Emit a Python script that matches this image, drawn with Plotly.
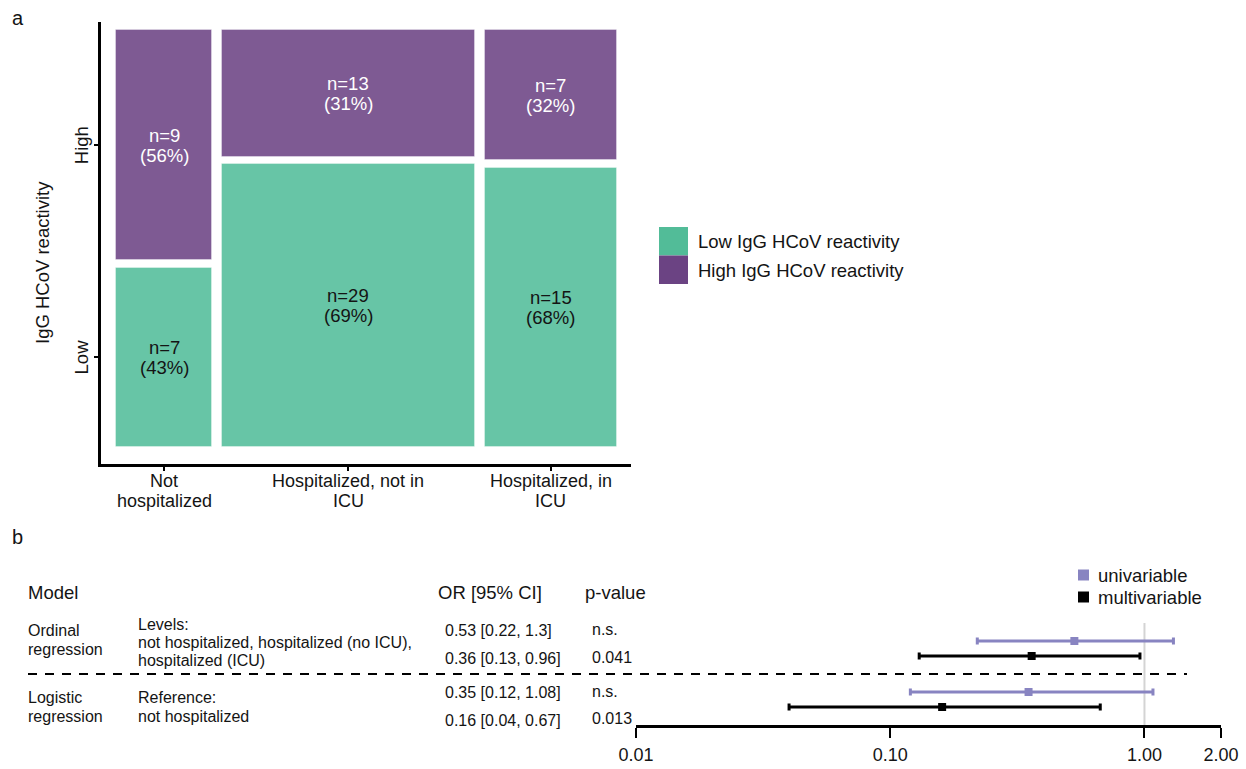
import math
import plotly.graph_objects as go

# ---------------- data ----------------
# Panel a: hospitalisation status vs IgG HCoV reactivity (counts)
categories = ["Not\nhospitalized", "Hospitalized, not in\nICU", "Hospitalized, in\nICU"]
low_counts = [7, 29, 15]
high_counts = [9, 13, 7]
low_pct = [43, 69, 68]
high_pct = [56, 31, 32]
reactivity_levels = ["Low", "High"]

# Panel b: odds ratios with 95% CI
models = ["Ordinal regression", "Logistic regression"]
or_uni = [0.53, 0.35]
lo_uni = [0.22, 0.12]
hi_uni = [1.3, 1.08]
p_uni = ["n.s.", "n.s."]
or_multi = [0.36, 0.16]
lo_multi = [0.13, 0.04]
hi_multi = [0.96, 0.67]
p_multi = ["0.041", "0.013"]
x_ticks = [0.01, 0.1, 1, 2]
x_ticktext = ["0.01", "0.10", "1.00", "2.00"]

# ---------------- styling ----------------
W, H = 1246, 769
FONT = "Liberation Sans, Arial, Helvetica, sans-serif"
TXT = "#141414"
GREEN_BOX = "#67C5A6"
PURPLE_BOX = "#7E5A93"
GREEN_KEY = "#52BC98"
PURPLE_KEY = "#6B4383"
LAVENDER = "#8884C1"


def px(x):
    return x / W


def py(y):
    return 1 - y / H


fig = go.Figure()
annotations = []
shapes = []


def text_at(x, y, s, size, color=TXT, xanchor="left", xref="paper", yref="paper",
            angle=0):
    annotations.append(dict(x=x, y=y, xref=xref, yref=yref, text=s, showarrow=False,
                            xanchor=xanchor, yanchor="middle", textangle=angle,
                            borderpad=0,
                            font=dict(family=FONT, size=size, color=color)))


# ---------------- panel a: mosaic ----------------
gap_x = 0.0208
gap_y = 0.0183
totals = [l + h for l, h in zip(low_counts, high_counts)]
grand = sum(totals)
widths = [t / grand for t in totals]
lefts = []
acc = 0.0
for i, w in enumerate(widths):
    lefts.append(acc + i * gap_x)
    acc += w
centers = [l + w / 2 for l, w in zip(lefts, widths)]
low_h = [l / t for l, t in zip(low_counts, totals)]
high_h = [h / t for h, t in zip(high_counts, totals)]
high_base = [lh + gap_y for lh in low_h]

fig.add_trace(go.Bar(
    x=centers, y=low_h, base=[0] * len(centers), width=widths,
    marker=dict(color=GREEN_BOX, line=dict(color="rgba(255,255,255,0.35)", width=1)),
    xaxis="x", yaxis="y", showlegend=False, hoverinfo="skip"))
fig.add_trace(go.Bar(
    x=centers, y=high_h, base=high_base, width=widths,
    marker=dict(color=PURPLE_BOX, line=dict(color="rgba(255,255,255,0.35)", width=1)),
    xaxis="x", yaxis="y", showlegend=False, hoverinfo="skip"))

# cell labels, two tight lines each
LH_BOX = 20 / 409.5  # line spacing in y units
for c, lh, hh, hb, ln, hn, lp, hp in zip(centers, low_h, high_h, high_base,
                                        low_counts, high_counts, low_pct, high_pct):
    for yc, n, p, col in ((lh / 2, ln, lp, TXT), (hb + hh / 2, hn, hp, "white")):
        text_at(c, yc + LH_BOX / 2, f"n={n}", 18.5, col, "center", "x", "y")
        text_at(c, yc - LH_BOX / 2, f"({p}%)", 18.5, col, "center", "x", "y")

# x tick labels
for c, lab in zip(centers, categories):
    lines = lab.split("\n")
    for k, ln in enumerate(lines):
        text_at(c, py(481 + 20 * k), ln, 18, TXT, "center", "x", "paper")

# y tick labels (first column)
ytick_vals = [low_h[0] / 2, high_base[0] + high_h[0] / 2]
for v, lab in zip(ytick_vals, reactivity_levels):
    text_at(px(81), v, lab, 18.5, TXT, "center", "paper", "y", angle=-90)

text_at(px(42), py(263), "IgG HCoV reactivity", 18.5, TXT, "center", angle=-90)

# legend for panel a
for k, (col, lab) in enumerate(((GREEN_KEY, "Low IgG HCoV reactivity"),
                                (PURPLE_KEY, "High IgG HCoV reactivity"))):
    y0 = 227 + 28.5 * k
    shapes.append(dict(type="rect", xref="paper", yref="paper", x0=px(659), x1=px(688),
                       y0=py(y0), y1=py(y0 + 28.5), fillcolor=col, line=dict(width=0)))
    text_at(px(697), py(y0 + 14.5), lab, 18.5)

# panel letters
text_at(px(11), py(18), "a", 20)
text_at(px(11), py(537), "b", 20)

# ---------------- panel b: forest plot ----------------
group_top = [5.6, 2.2]
y_uni = [g for g in group_top]
y_multi = [g - 1 for g in group_top]

fig.add_trace(go.Scatter(
    x=or_uni, y=y_uni, mode="markers", xaxis="x2", yaxis="y2",
    marker=dict(symbol="square", size=8, color=LAVENDER),
    error_x=dict(type="data", symmetric=False,
                 array=[h - o for h, o in zip(hi_uni, or_uni)],
                 arrayminus=[o - l for o, l in zip(or_uni, lo_uni)],
                 color=LAVENDER, thickness=3, width=3.5),
    showlegend=False, hoverinfo="skip"))
fig.add_trace(go.Scatter(
    x=or_multi, y=y_multi, mode="markers", xaxis="x2", yaxis="y2",
    marker=dict(symbol="square", size=8, color="black"),
    error_x=dict(type="data", symmetric=False,
                 array=[h - o for h, o in zip(hi_multi, or_multi)],
                 arrayminus=[o - l for o, l in zip(or_multi, lo_multi)],
                 color="black", thickness=3, width=3.5),
    showlegend=False, hoverinfo="skip"))

# reference line at OR = 1
shapes.append(dict(type="line", xref="x2", yref="y2", x0=1, x1=1, y0=0, y1=6.8,
                   line=dict(color="#D4D4D4", width=2), layer="below"))
# separator between models
shapes.append(dict(type="line", xref="paper", yref="paper", x0=px(28), x1=px(1187),
                   y0=py(674), y1=py(674), line=dict(color="black", width=2, dash="9px,8px")))

# table
text_at(px(27), py(592), "Model", 18.5)
text_at(px(437), py(592), "OR [95% CI]", 18.5)
text_at(px(584), py(592), "p-value", 18.5)

text_at(px(27), py(630), "Ordinal", 16)
text_at(px(27), py(649), "regression", 16)
text_at(px(137), py(624), "Levels:", 16)
text_at(px(137), py(642), "not hospitalized, hospitalized (no ICU),", 16)
text_at(px(137), py(660), "hospitalized (ICU)", 16)
text_at(px(27), py(697), "Logistic", 16)
text_at(px(27), py(716), "regression", 16)
text_at(px(137), py(697), "Reference:", 16)
text_at(px(137), py(716), "not hospitalized", 16)


def ci_label(o, lo, hi):
    return f"{o:g} [{lo:g}, {hi:g}]"


or_rows_y = [[630, 658], [692, 720]]
p_rows_y = [[629, 657], [691, 718]]
for g in range(len(models)):
    text_at(px(444), py(or_rows_y[g][0]), ci_label(or_uni[g], lo_uni[g], hi_uni[g]), 16)
    text_at(px(444), py(or_rows_y[g][1]), ci_label(or_multi[g], lo_multi[g], hi_multi[g]), 16)
    text_at(px(591), py(p_rows_y[g][0]), p_uni[g], 16)
    text_at(px(591), py(p_rows_y[g][1]), p_multi[g], 16)

# legend for panel b
for k, (col, lab) in enumerate(((LAVENDER, "univariable"), ("black", "multivariable"))):
    yc = 575 + 22 * k
    shapes.append(dict(type="rect", xref="paper", yref="paper", x0=px(1078), x1=px(1089),
                       y0=py(yc - 5.5), y1=py(yc + 5.5), fillcolor=col, line=dict(width=0)))
    text_at(px(1097), py(yc), lab, 18.5)

# ---------------- layout ----------------
axis_common = dict(showgrid=False, zeroline=False, showline=True, linecolor="black",
                   linewidth=2.5, ticks="outside", tickwidth=2, tickcolor="black",
                   fixedrange=True, automargin=False)
fig.update_layout(
    width=W, height=H,
    margin=dict(l=0, r=0, t=0, b=0, pad=0, autoexpand=False),
    paper_bgcolor="white", plot_bgcolor="white",
    barmode="overlay", bargap=0,
    font=dict(family=FONT, color=TXT),
    xaxis=dict(domain=[px(101), px(631)], range=[-0.031, 1 + 2 * gap_x + 0.029],
               ticklen=4, tickvals=centers, showticklabels=False, **axis_common),
    yaxis=dict(domain=[py(464), py(22)], range=[-0.0415, 1.0378],
               ticklen=4, tickvals=ytick_vals, showticklabels=False, **axis_common),
    xaxis2=dict(domain=[px(636), px(1221)], type="log", range=[-2, math.log10(2)],
                anchor="y2", ticklen=10, tickvals=x_ticks, ticktext=x_ticktext,
                tickfont=dict(family=FONT, size=18, color=TXT), ticklabelstandoff=2,
                **axis_common),
    yaxis2=dict(domain=[py(725), py(620)], range=[0, 7], anchor="x2", visible=False,
                fixedrange=True, automargin=False),
    annotations=annotations,
    shapes=shapes,
)

fig.write_html("out.html")
